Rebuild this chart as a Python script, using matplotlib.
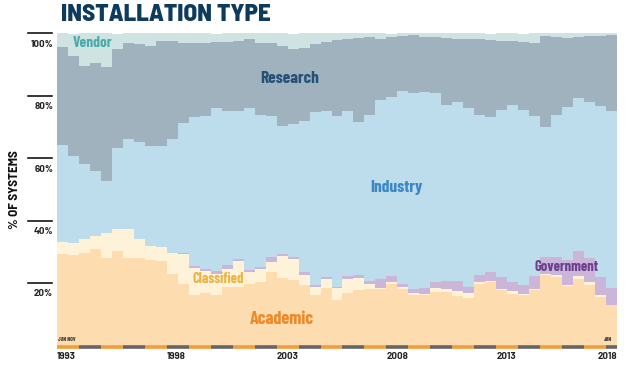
import numpy as np
import matplotlib
matplotlib.use('Agg')
import matplotlib.pyplot as plt
from matplotlib import transforms

# TOP500 lists, June 1993 .. June 2018 (two per year)
periods = ['%d %s' % (1993 + i // 2, 'JUN' if i % 2 == 0 else 'NOV') for i in range(51)]

# share of systems (%) per installation type, one value per list
academic = [29.2, 28.9, 29.5, 30.9, 27.9, 30.2, 28.1, 27.9, 27.3, 27.0,
            23.0, 19.8, 16.1, 16.9, 16.3, 18.7, 18.7, 19.8, 20.4, 23.4,
            21.6, 20.9, 19.5, 16.1, 18.4, 14.5, 16.9, 17.7, 18.0, 18.0,
            19.8, 18.2, 16.3, 16.1, 17.1, 17.1, 15.9, 15.2, 19.8, 20.4,
            17.7, 16.6, 16.3, 17.7, 22.7, 22.0, 19.1, 21.4, 19.5, 15.5, 12.9]
classified = [4.0, 4.1, 4.6, 4.3, 8.3, 7.1, 9.2, 6.2, 4.6, 4.6,
              6.5, 9.4, 8.8, 6.9, 6.7, 5.7, 8.5, 3.6, 4.0, 3.4,
              7.1, 6.8, 3.2, 2.8, 3.0, 3.9, 4.3, 3.9, 1.8, 0.4,
              0.6, 0.5, 0.6, 0.5, 1.3, 0.9, 1.5, 1.7, 0.6, 0.4,
              0.5, 0.8, 0.3, 0.5, 0.3, 0.5, 0.2, 0.9, 0.7, 0.6, 0.2]
government = [0, 0, 0, 0, 0, 0, 0, 0, 0, 0,
              0, 0.6, 0.6, 0.8, 0.8, 1.5, 0.5, 0.7, 0.8, 1.7,
              0.5, 0.6, 0.7, 0.4, 0.5, 0.4, 1.1, 0.9, 0.8, 2.8,
              1.9, 0.9, 1.1, 1.8, 1.8, 2.8, 3.2, 1.8, 2.3, 2.6,
              3.8, 3.0, 2.7, 4.1, 5.4, 5.9, 8.0, 7.9, 7.7, 5.9, 5.3]
industry = [31.1, 27.8, 24.1, 20.8, 16.6, 25.9, 29.0, 31.0, 32.1, 32.2,
            36.8, 41.5, 47.7, 49.0, 52.3, 49.1, 47.3, 52.0, 48.8, 45.1,
            41.0, 42.8, 48.7, 55.4, 53.1, 54.8, 52.9, 49.0, 53.4, 57.4,
            57.3, 61.9, 62.9, 62.9, 60.7, 56.4, 57.6, 57.4, 51.3, 49.7,
            53.6, 56.8, 56.3, 51.3, 41.5, 45.6, 49.1, 49.1, 50.3, 54.8, 56.6]
research = [31.4, 31.9, 31.3, 34.6, 36.4, 31.7, 30.5, 31.4, 31.9, 33.7,
            31.2, 25.7, 23.6, 23.2, 21.1, 22.4, 22.7, 22.0, 23.0, 23.4,
            25.9, 23.8, 23.2, 21.8, 22.2, 24.4, 23.1, 27.1, 24.9, 19.7,
            19.3, 17.6, 18.5, 17.6, 18.0, 21.4, 20.1, 22.2, 24.1, 24.8,
            21.9, 20.3, 21.6, 23.4, 29.2, 24.9, 22.2, 19.6, 20.9, 22.3, 24.4]
vendor = [4.3, 7.3, 10.5, 9.4, 10.8, 5.1, 3.2, 3.5, 4.1, 2.5,
          2.5, 3.0, 3.2, 3.2, 2.8, 2.6, 2.3, 1.9, 3.0, 3.0,
          3.9, 5.1, 4.7, 3.5, 2.8, 2.0, 1.7, 1.4, 1.1, 1.7,
          1.1, 0.9, 0.6, 1.1, 1.1, 1.4, 1.7, 1.7, 1.9, 2.1,
          2.5, 2.5, 2.8, 3.0, 0.9, 1.1, 1.4, 1.1, 0.9, 0.9, 0.6]

series = [academic, classified, government, industry, research, vendor]
colors = ['#fddcb0', '#fef3d9', '#cbb5d9', '#bddcec', '#a0b2be', '#cfe4e2']

year_ticks = [1993, 1998, 2003, 2008, 2013, 2018]
pct_ticks = [20, 40, 60, 80, 100]

COND = ['Barlow Condensed', 'DejaVu Sans']
SEMI = ['Barlow Semi Condensed', 'DejaVu Sans']
WIDE = ['Barlow', 'DejaVu Sans']

fig = plt.figure(figsize=(6.33, 3.72), dpi=100)
ax = fig.add_axes([57 / 633, 26.5 / 372, 560 / 633, 312 / 372])

edges = np.arange(len(periods) + 1)
base = np.zeros(len(periods))
for vals, col in zip(series, colors):
    top = base + np.array(vals)
    ax.stairs(top, edges, baseline=base, fill=True, color=col, lw=0)
    base = top

ax.set_xlim(0, len(periods))
ax.set_ylim(0, 100)
for s in ax.spines.values():
    s.set_visible(False)
ax.set_xticks([])
ax.set_yticks([])

# y tick marks: short rules left of the plot with the label underneath
trans = transforms.blended_transform_factory(ax.transAxes, ax.transData)
for v in pct_ticks:
    ax.plot([-0.052, -0.009], [v, v], color='black', lw=1.1,
            transform=trans, clip_on=False)
    ax.annotate('%d%%' % v, xy=(-0.007, v), xycoords=trans,
                xytext=(0, -4.5), textcoords='offset points',
                ha='right', va='top', fontsize=7, fontweight='bold',
                family=WIDE, color='#222222')

# year bar along the bottom: orange / grey per year
for j in range(26):
    x0, x1 = 2 * j, min(2 * j + 2, len(periods))
    ax.plot([x0, x1], [-0.4, -0.4], color='#f39c38' if j % 2 == 0 else '#666666',
            lw=2.6, solid_capstyle='butt', clip_on=False)

for y in year_ticks:
    i = (y - 1993) * 2
    if y == 2018:
        ax.text(i + 1, -2.0, str(y), ha='right', va='top', fontsize=7,
                fontweight='bold', family=WIDE, color='#222222')
    else:
        ax.text(i, -2.0, str(y), ha='left', va='top', fontsize=7,
                fontweight='bold', family=WIDE, color='#222222')

ax.text(0.1, 1.2, 'JUN NOV', fontsize=4, fontweight='bold', family=COND,
        color='#333333', ha='left', va='bottom')
ax.text(49.8, 1.2, 'JUN', fontsize=4, fontweight='bold', family=COND,
        color='#333333', ha='left', va='bottom')

# category labels
ax.text(1.4, 96.8, 'Vendor', color='#4aabaa', fontsize=11, fontweight='bold',
        family=COND, ha='left', va='center')
ax.text(21.2, 85.7, 'Research', color='#255178', fontsize=12.5, fontweight='bold',
        family=COND, ha='center', va='center')
ax.text(30.9, 50.5, 'Industry', color='#3b86c4', fontsize=12.5, fontweight='bold',
        family=COND, ha='center', va='center')
ax.text(14.7, 21.2, 'Classified', color='#e8b443', fontsize=10.5, fontweight='bold',
        family=COND, ha='center', va='center')
ax.text(20.5, 8.2, 'Academic', color='#ec8a2a', fontsize=13, fontweight='bold',
        family=COND, ha='center', va='center')
ax.text(46.4, 25.3, 'Government', color='#6a3f8e', fontsize=10.5, fontweight='bold',
        family=COND, ha='center', va='center')

fig.text(15 / 633, 1 - 190 / 372, '% OF SYSTEMS', rotation=90, fontsize=9.5,
         fontweight='bold', family=SEMI, color='#111111', ha='center', va='center')
fig.text(61 / 633, 1 - 15 / 372, 'INSTALLATION TYPE', fontsize=18,
         fontweight='heavy', family=SEMI, color='#0d3b5e', ha='left', va='center')

fig.savefig('out.png', dpi=100)
